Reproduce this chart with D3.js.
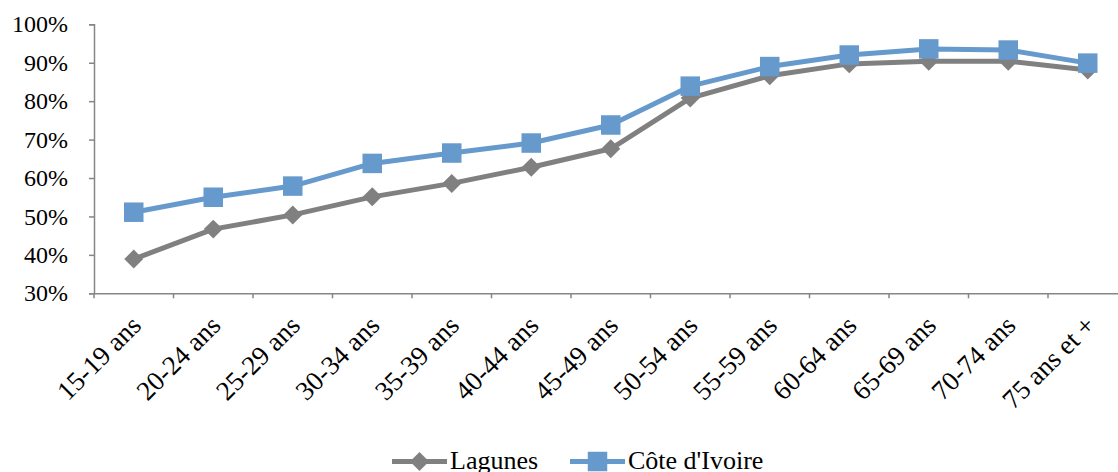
<!DOCTYPE html>
<html>
<head>
<meta charset="utf-8">
<script src="https://cdn.jsdelivr.net/npm/d3@7"></script>
<style>
  body { margin: 0; background: #fff; }
  svg { display: block; }
  svg text { font-family: "Liberation Serif", "Times New Roman", serif; }
</style>
</head>
<body>
<svg width="1118" height="472"></svg>
<script>
const width = 1118;
const height = 472;

const categories = ["15-19 ans", "20-24 ans", "25-29 ans", "30-34 ans", "35-39 ans", "40-44 ans",
    "45-49 ans", "50-54 ans", "55-59 ans", "60-64 ans", "65-69 ans", "70-74 ans", "75 ans et +"];
const lagunes = [38.9, 46.7, 50.4, 55.1, 58.6, 62.8, 67.6, 80.8, 86.6, 89.7, 90.4, 90.4, 88.1];
const coteIvoire = [51.1, 55.0, 57.9, 63.8, 66.5, 69.1, 73.8, 83.9, 89.0, 92.0, 93.6, 93.3, 89.9];
const yTicks = [30, 40, 50, 60, 70, 80, 90, 100];

const series = [
    { name: "Lagunes", values: lagunes, color: "#808080", marker: "diamond" },
    { name: "Côte d'Ivoire", values: coteIvoire, color: "#6699cc", marker: "square" }
];

const plotLeft = 94, plotTop = 24.3, plotBottom = 293.3, step = 79.5;

const x = d3.scaleBand()
    .domain(categories)
    .range([plotLeft, plotLeft + step * categories.length]);

const y = d3.scaleLinear()
    .domain([30, 100])
    .range([plotBottom, plotTop]);

const svg = d3.select("svg");
const axisColor = "#868686";

// y axis
const yAxis = svg.append("g")
    .attr("transform", `translate(${plotLeft},0)`)
    .call(d3.axisLeft(y).tickValues(yTicks).tickSize(5).tickPadding(21).tickFormat(d => d + "%"));
yAxis.attr("font-size", 24);
yAxis.select(".domain").attr("stroke", axisColor).attr("stroke-width", 1.5);
yAxis.selectAll(".tick line").attr("stroke", axisColor).attr("stroke-width", 1.5);
yAxis.selectAll(".tick text").attr("fill", "#000");

// x axis
const xAxis = svg.append("g")
    .attr("transform", `translate(0,${plotBottom})`)
    .call(d3.axisBottom(x).tickSize(0).tickFormat(""));
xAxis.select(".domain").attr("stroke", axisColor).attr("stroke-width", 1.5);

// ticks between categories
svg.append("g")
    .selectAll("line")
    .data(d3.range(categories.length + 1))
    .join("line")
    .attr("x1", i => plotLeft + i * x.step())
    .attr("x2", i => plotLeft + i * x.step())
    .attr("y1", plotBottom)
    .attr("y2", plotBottom + 5)
    .attr("stroke", axisColor)
    .attr("stroke-width", 1.5);

// rotated category labels
svg.append("g")
    .selectAll("text")
    .data(categories)
    .join("text")
    .attr("transform", d => `translate(${x(d) + x.bandwidth() / 2 + 9},327) rotate(-45)`)
    .attr("text-anchor", "end")
    .attr("font-size", 27)
    .attr("fill", "#000")
    .text(d => d);

const cx = (d, i) => x(categories[i]) + x.bandwidth() / 2;

const line = d3.line()
    .x(cx)
    .y(d => y(d));

const squareSym = d3.symbol(d3.symbolSquare, 380);
const diamondSym = d3.symbol(d3.symbolSquare, 180);
const markerPath = m => m === "square" ? squareSym() : diamondSym();
const markerRot = m => m === "square" ? "" : " rotate(45)";

for (const s of series) {
    svg.append("path")
        .datum(s.values)
        .attr("fill", "none")
        .attr("stroke", s.color)
        .attr("stroke-width", 5)
        .attr("stroke-linejoin", "round")
        .attr("d", line);

    svg.append("g")
        .selectAll("path")
        .data(s.values)
        .join("path")
        .attr("transform", (d, i) => `translate(${cx(d, i)},${y(d)})${markerRot(s.marker)}`)
        .attr("d", markerPath(s.marker))
        .attr("fill", s.color);
}

// legend
const legend = svg.append("g");
const legendPos = [392, 570];
series.forEach((s, i) => {
    const g = legend.append("g").attr("transform", `translate(${legendPos[i]},461.5)`);
    g.append("line")
        .attr("x1", 0).attr("x2", 55)
        .attr("stroke", s.color)
        .attr("stroke-width", 5);
    g.append("path")
        .attr("transform", "translate(27.5,0)" + markerRot(s.marker))
        .attr("d", markerPath(s.marker))
        .attr("fill", s.color);
    g.append("text")
        .attr("x", 58)
        .attr("y", 7.5)
        .attr("font-size", 26)
        .attr("fill", "#000")
        .text(s.name);
});
</script>
</body>
</html>
